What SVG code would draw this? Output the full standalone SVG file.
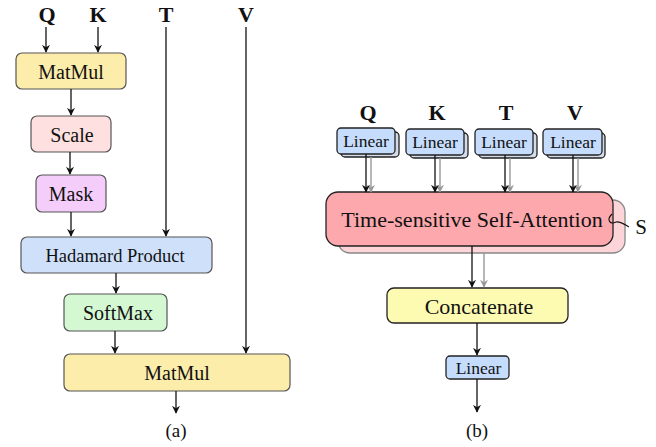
<svg xmlns="http://www.w3.org/2000/svg" width="656" height="447" viewBox="0 0 656 447" font-family="'Liberation Serif', serif">
<defs>
<style>
text{font-family:'Liberation Serif',serif;fill:#111;text-anchor:middle;dominant-baseline:central}
.lbl{font-weight:bold;font-size:22px}
.a rect{stroke:#555;stroke-width:1.2}
.b rect{stroke:#222;stroke-width:1.3}
.e{stroke:#111;stroke-width:1.3;fill:none}
.g{stroke:#999;stroke-width:1.4;fill:none}
.sh{fill:#d3dbe8;stroke:#aab;stroke-width:1}
</style>
<marker id="ah" viewBox="0 0 10 10" refX="9" refY="5" markerWidth="8" markerHeight="8" markerUnits="userSpaceOnUse" orient="auto"><path d="M0,0 L10,5 L0,10 L3,5 Z" fill="#111"/></marker>
<marker id="ag" viewBox="0 0 10 10" refX="9" refY="5" markerWidth="8" markerHeight="8" markerUnits="userSpaceOnUse" orient="auto"><path d="M0,0 L10,5 L0,10 L3,5 Z" fill="#999"/></marker>
</defs>
<rect width="656" height="447" fill="#fff"/>

<!-- Panel (a) -->
<text class="lbl" x="47" y="14">Q</text>
<text class="lbl" x="98" y="14">K</text>
<text class="lbl" x="166" y="14">T</text>
<text class="lbl" x="246" y="14">V</text>

<g id="a-matmul1" class="a"><rect x="16" y="53" width="110" height="36" rx="6" fill="#fcedab"/><text x="71" y="72" font-size="20">MatMul</text></g>
<g id="a-scale" class="a"><rect x="31" y="116" width="80" height="36" rx="6" fill="#fde0df"/><text x="72" y="135" font-size="20">Scale</text></g>
<g id="a-mask" class="a"><rect x="36" y="175" width="70" height="37" rx="6" fill="#f5cdfb"/><text x="71" y="194" font-size="20">Mask</text></g>
<g id="a-hadamard" class="a"><rect x="21" y="237" width="191" height="36" rx="6" fill="#cfe0fb"/><text x="115" y="256" font-size="18.5">Hadamard Product</text></g>
<g id="a-softmax" class="a"><rect x="64" y="294" width="103" height="37" rx="6" fill="#d4f8d2"/><text x="118" y="313" font-size="20">SoftMax</text></g>
<g id="a-matmul2" class="a"><rect x="64" y="354" width="226" height="37" rx="6" fill="#fcedab"/><text x="177" y="373" font-size="20">MatMul</text></g>
<text x="176" y="430" font-size="19">(a)</text>

<!-- Panel (b) -->
<text class="lbl" x="368" y="112">Q</text>
<text class="lbl" x="437" y="112">K</text>
<text class="lbl" x="506" y="112">T</text>
<text class="lbl" x="575" y="112">V</text>

<g id="b-linq" class="b"><rect class="sh" x="341" y="132" width="58" height="25" rx="4"/><rect x="337" y="128" width="58" height="26" rx="4" fill="#c6dcfd"/><text x="366" y="141" font-size="17.5">Linear</text></g>
<g id="b-link" class="b"><rect class="sh" x="410" y="133" width="58" height="25" rx="4"/><rect x="406" y="129" width="58" height="26" rx="4" fill="#c6dcfd"/><text x="435" y="142" font-size="17.5">Linear</text></g>
<g id="b-lint" class="b"><rect class="sh" x="479" y="133" width="58" height="25" rx="4"/><rect x="475" y="129" width="58" height="26" rx="4" fill="#c6dcfd"/><text x="504" y="142" font-size="17.5">Linear</text></g>
<g id="b-linv" class="b"><rect class="sh" x="547" y="133" width="58" height="25" rx="4"/><rect x="543" y="129" width="59" height="26" rx="4" fill="#c6dcfd"/><text x="573" y="142" font-size="17.5">Linear</text></g>

<g id="b-tsa" class="b"><rect x="338" y="200" width="287" height="53" rx="12" fill="#fdd5d8" style="stroke:#888"/><rect x="326" y="192" width="287" height="54" rx="12" fill="#fca8ad"/><text x="472" y="219" font-size="22">Time-sensitive Self-Attention</text>
<path d="M612,214 C606,220 610,225 616,222 C620,221 624,224 629,227" fill="none" stroke="#111" stroke-width="1.1"/>
<text x="641" y="227" font-size="21">S</text></g>

<g id="b-concat" class="b"><rect x="387" y="288" width="181" height="35" rx="7" fill="#fdfbb1"/><text x="479" y="306" font-size="22">Concatenate</text></g>
<g id="b-linout" class="b"><rect x="446" y="356" width="63" height="23" rx="4" fill="#c6dcfd"/><text x="478.5" y="367.5" font-size="17.5">Linear</text></g>
<text x="477" y="430" font-size="19">(b)</text>

<!-- connectors -->
<g id="connectors">
<path class="e" d="M46,27 V52" marker-end="url(#ah)"/>
<path class="e" d="M98,27 V52" marker-end="url(#ah)"/>
<path class="e" d="M71,89 V115" marker-end="url(#ah)"/>
<path class="e" d="M70,152 V174" marker-end="url(#ah)"/>
<path class="e" d="M71,212 V236" marker-end="url(#ah)"/>
<path class="e" d="M166,27 V236" marker-end="url(#ah)"/>
<path class="e" d="M116,273 V293" marker-end="url(#ah)"/>
<path class="e" d="M115,331 V353" marker-end="url(#ah)"/>
<path class="e" d="M246,27 V353" marker-end="url(#ah)"/>
<path class="e" d="M176,391 V413" marker-end="url(#ah)"/>

<path class="g" d="M371,157 V192" marker-end="url(#ag)"/>
<path class="e" d="M366,154 V192" marker-end="url(#ah)"/>
<path class="g" d="M440,158 V192" marker-end="url(#ag)"/>
<path class="e" d="M435,155 V192" marker-end="url(#ah)"/>
<path class="g" d="M510,158 V192" marker-end="url(#ag)"/>
<path class="e" d="M505,155 V192" marker-end="url(#ah)"/>
<path class="g" d="M578,158 V192" marker-end="url(#ag)"/>
<path class="e" d="M573,155 V192" marker-end="url(#ah)"/>

<path class="g" d="M484,253 V287" marker-end="url(#ag)"/>
<path class="e" d="M472,246 V287" marker-end="url(#ah)"/>
<path class="e" d="M477,323 V355" marker-end="url(#ah)"/>
<path class="e" d="M477,379 V412" marker-end="url(#ah)"/>
</g>
</svg>
